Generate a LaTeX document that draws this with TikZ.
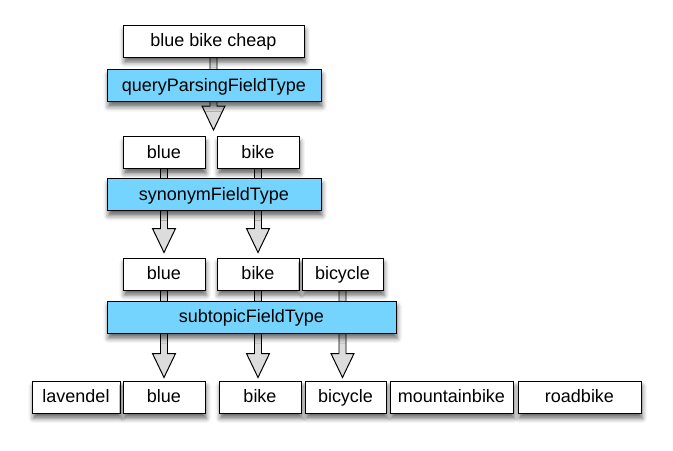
\documentclass[tikz,border=0pt]{standalone}
\usepackage{fontspec}
\setmainfont{Liberation Sans}
\usetikzlibrary{calc,backgrounds,shadows.blur}
\definecolor{FieldBlue}{HTML}{74D4FD}
\definecolor{ArrowGray}{HTML}{DCDCDC}

\newcommand{\hollowarrow}[2]{%
  \path (#1) coordinate (ha-s) (#2) coordinate (ha-t);
  \filldraw[fill=ArrowGray, line width=0.7pt, line join=miter]
    ($(ha-s)+(-3.5,0)$) -- ($(ha-t)+(-3.5,-24)$) -- ($(ha-t)+(-11.5,-24)$) -- (ha-t)
    -- ($(ha-t)+(11.5,-24)$) -- ($(ha-t)+(3.5,-24)$) -- ($(ha-s)+(3.5,0)$);
}

\begin{document}
\begin{tikzpicture}[x=0.25mm, y=-0.25mm,
    font=\fontsize{12.8}{15}\selectfont,
    term/.style={draw, fill=white, line width=0.7pt, minimum height=8mm, inner sep=0pt,
      text height=0.85em, text depth=0pt,
      blur shadow={shadow xshift=0.3mm, shadow yshift=-1.3mm, shadow blur radius=1.2mm, shadow opacity=60}},
    fieldtype/.style={term, fill=FieldBlue}]
  \useasboundingbox (0,0) rectangle (673,451);

  \node[term, minimum width=181*0.25mm] (query) at (213.5,41) {blue bike cheap};
  \node[fieldtype, minimum width=214*0.25mm] (qpft) at (214,85.5) {queryParsingFieldType};

  \foreach \t/\x in {blue/164,bike/258} {
    \node[term, minimum width=82*0.25mm] (\t-2) at (\x,152.5) {\t};
  }
  \node[fieldtype, minimum width=214*0.25mm] (synft) at (214,194.5) {synonymFieldType};

  \foreach \t/\x/\w in {blue/164/82,bike/258/82,bicycle/342.5/81} {
    \node[term, minimum width=\w*0.25mm] (\t-3) at (\x,274) {\t};
  }
  \node[fieldtype, minimum width=289*0.25mm] (subft) at (251.5,317) {subtopicFieldType};

  \foreach \t/\x/\w in {lavendel/76/88,blue/164/82,bike/260/82,bicycle/345.5/81,
                        mountainbike/451.5/123,roadbike/579.5/123} {
    \node[term, minimum width=\w*0.25mm] (\t-4) at (\x,397) {\t};
  }

  % arrows pass behind the field type boxes
  \begin{pgfonlayer}{background}
    \hollowarrow{query.south}{$(query.south |- blue-2.north)+(0,-6)$}
    \foreach \t in {blue,bike} {
      \hollowarrow{\t-2.south}{$(\t-2.south |- \t-3.north)+(0,-5)$}
    }
    \foreach \t in {blue,bike,bicycle} {
      \hollowarrow{\t-3.south}{$(\t-3.south |- \t-4.north)+(0,-3)$}
    }
  \end{pgfonlayer}
\end{tikzpicture}
\end{document}
